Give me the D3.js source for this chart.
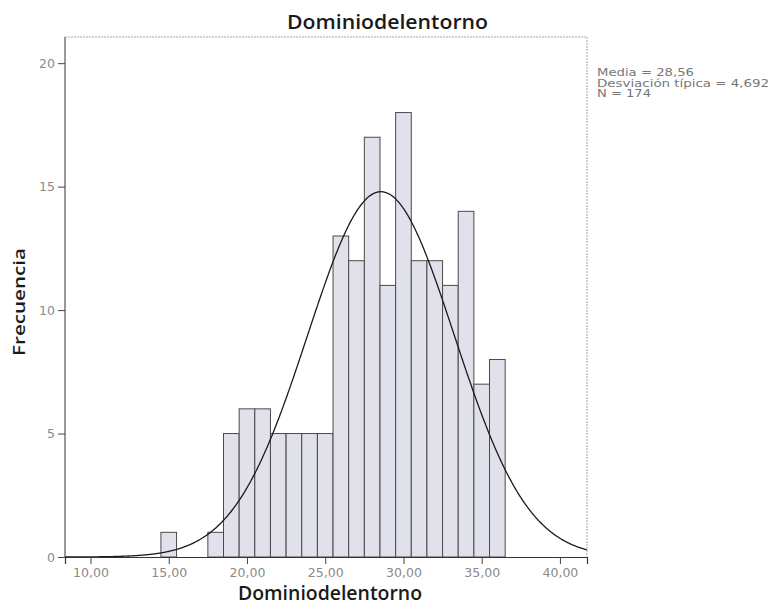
<!DOCTYPE html>
<html><head><meta charset="utf-8">
<script src="https://cdn.jsdelivr.net/npm/d3@7"></script>
<style>body{margin:0;background:#fff} svg{display:block}</style>
</head><body><svg id="c" width="772" height="612"></svg>
<script>
// ---- data ----
const binCenters = [15,18,19,20,21,22,23,24,25,26,27,28,29,30,31,32,33,34,35,36];
const counts     = [1, 1, 5, 6, 6, 5, 5, 5, 5, 13,12,17,11,18,12,12,11,14,7, 8];
const xTicks = [10,15,20,25,30,35,40];
const yTicks = [0,5,10,15,20];
const mean = 28.56, sd = 4.692, nTotal = 174, binWidth = 1;
const title = "Dominiodelentorno";
const xLabel = "Dominiodelentorno";
const yLabel = "Frecuencia";
const statsLines = ["Media = 28,56", "Desviación típica = 4,692", "N = 174"];
const statsWidths = [97, 172, 54];

// ---- layout ----
const svg = d3.select("#c");
const L = 65, R = 587, T = 37, B = 557;
const x = d3.scaleLinear().domain([8.37, 41.73]).range([L, R]);
const y = d3.scaleLinear().domain([0, 21.06]).range([B, T]);
const font = "'DejaVu Sans', Verdana, sans-serif";
const titleFont = "'Open Sans', 'DejaVu Sans', sans-serif";

// frame (top/right light)
svg.append("path")
  .attr("d", `M${L},${T}H${R}V${B}`)
  .attr("fill", "none").attr("stroke", "#a8a8a8").attr("stroke-width", 1)
  .attr("stroke-dasharray", "2,1");

// bars
const bins = binCenters.map((c, i) => ({c, v: counts[i]}));
svg.append("g").selectAll("rect").data(bins).join("rect")
  .attr("x", d => x(d.c - binWidth/2))
  .attr("width", d => x(d.c + binWidth/2) - x(d.c - binWidth/2))
  .attr("y", d => y(d.v))
  .attr("height", d => y(0) - y(d.v))
  .attr("fill", "#e1e1ec")
  .attr("stroke", "#4a4a4a").attr("stroke-width", 1);

// normal curve
const pdf = t => nTotal * binWidth / (sd * Math.sqrt(2*Math.PI)) * Math.exp(-0.5*((t-mean)/sd)**2);
const xs = d3.range(x.domain()[0], x.domain()[1] + 0.001, 0.05);
svg.append("path")
  .datum(xs)
  .attr("d", d3.line().x(t => x(t)).y(t => y(pdf(t))).curve(d3.curveBasis))
  .attr("fill", "none").attr("stroke", "#1a1a1a").attr("stroke-width", 1.3);

// axes
const fmt = d => d3.format(".2f")(d).replace(".", ",");
const gx = svg.append("g").attr("transform", `translate(0,${B})`)
  .call(d3.axisBottom(x).tickValues(xTicks).tickFormat(fmt).tickSizeOuter(0).tickSize(7).tickPadding(4));
gx.select(".domain").attr("stroke", "#333").attr("stroke-width", 1.2);
gx.selectAll(".tick line").attr("stroke", "#444");
gx.selectAll(".tick text").attr("fill", "#8a8a8a").attr("font-family", font).attr("font-size", 12.5);

const gy = svg.append("g").attr("transform", `translate(${L},0)`)
  .call(d3.axisLeft(y).tickValues(yTicks).tickSizeOuter(0).tickSize(7).tickPadding(3));
gy.select(".domain").attr("stroke", "#555").attr("stroke-width", 1.2)
  .attr("d", `M0,${B}V${T}`);
gy.selectAll(".tick line").attr("stroke", "#444");
gy.selectAll(".tick text").attr("fill", "#8a8a8a").attr("font-family", font).attr("font-size", 12.5);

// titles
svg.append("text").attr("x", 387.5).attr("y", 29).attr("text-anchor", "middle")
  .attr("font-family", titleFont).attr("font-weight", 600).attr("font-size", 19).attr("fill", "#1a1a1a")
  .attr("textLength", 201).attr("lengthAdjust", "spacingAndGlyphs").text(title);
svg.append("text").attr("x", 330).attr("y", 600).attr("text-anchor", "middle")
  .attr("font-family", titleFont).attr("font-weight", 600).attr("font-size", 19).attr("fill", "#1a1a1a")
  .attr("textLength", 184).attr("lengthAdjust", "spacingAndGlyphs").text(xLabel);
svg.append("text").attr("transform", "translate(25,302) rotate(-90)").attr("text-anchor", "middle")
  .attr("font-family", titleFont).attr("font-weight", 600).attr("font-size", 17).attr("fill", "#1a1a1a")
  .attr("textLength", 108).attr("lengthAdjust", "spacingAndGlyphs")
  .text(yLabel);

// stats
svg.append("g").selectAll("text").data(statsLines).join("text")
  .attr("x", 597).attr("y", (d, i) => 76 + i*10.5)
  .attr("font-family", font).attr("font-size", 10.5).attr("fill", "#777")
  .attr("textLength", (d, i) => statsWidths[i]).attr("lengthAdjust", "spacingAndGlyphs")
  .text(d => d);
</script></body></html>
